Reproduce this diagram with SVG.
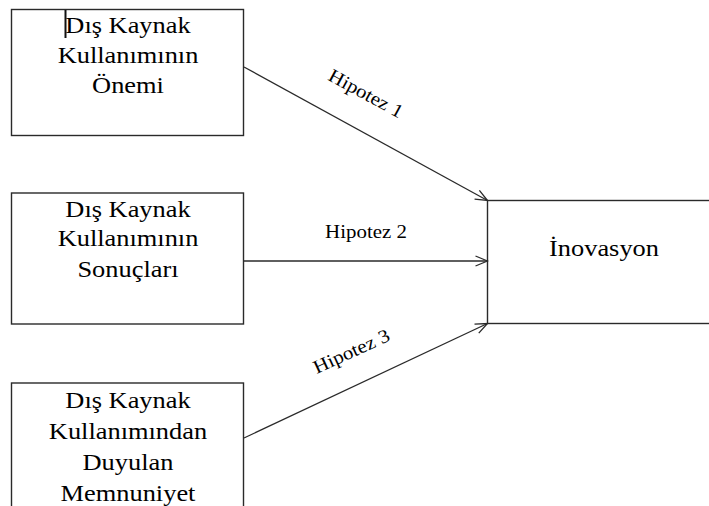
<svg xmlns="http://www.w3.org/2000/svg" width="709" height="506" viewBox="0 0 709 506">
  <defs>
    <style>
      .box { fill: #ffffff; stroke: #2a2a2a; stroke-width: 1.4; }
      .lbl { font-family: "Liberation Serif", "Times New Roman", serif; font-size: 24px; fill: #000; text-anchor: middle; }
      .hyp { font-family: "Liberation Serif", "Times New Roman", serif; font-size: 19px; fill: #000; text-anchor: middle; }
      .edge { stroke: #2a2a2a; stroke-width: 1.3; fill: none; }
    </style>
    <marker id="arrow" viewBox="0 0 14 12" refX="13" refY="6" markerWidth="14" markerHeight="12" markerUnits="userSpaceOnUse" orient="auto">
      <path d="M1,1 L13,6 L1,11" fill="none" stroke="#2a2a2a" stroke-width="1.3"/>
    </marker>
  </defs>

  <rect width="709" height="506" fill="#ffffff"/>

  <!-- source factor boxes -->
  <g id="node-onemi">
    <rect class="box" x="11.5" y="9.5" width="232" height="126"/>
    <g transform="translate(128 0) scale(1.1 1)">
      <text class="lbl" x="0" y="33.5">Dış Kaynak</text>
      <text class="lbl" x="0" y="63">Kullanımının</text>
      <text class="lbl" x="0" y="93">Önemi</text>
    </g>
    <!-- text cursor -->
    <line x1="65.5" y1="10" x2="65.5" y2="38" stroke="#111" stroke-width="2"/>
  </g>

  <g id="node-sonuclari">
    <rect class="box" x="11.5" y="193" width="232" height="131"/>
    <g transform="translate(128 0) scale(1.1 1)">
      <text class="lbl" x="0" y="217">Dış Kaynak</text>
      <text class="lbl" x="0" y="246.5">Kullanımının</text>
      <text class="lbl" x="0" y="277">Sonuçları</text>
    </g>
  </g>

  <g id="node-memnuniyet">
    <rect class="box" x="11.5" y="383" width="232" height="140"/>
    <g transform="translate(128 0) scale(1.1 1)">
      <text class="lbl" x="0" y="408">Dış Kaynak</text>
      <text class="lbl" x="0" y="439">Kullanımından</text>
      <text class="lbl" x="0" y="470">Duyulan</text>
      <text class="lbl" x="0" y="501">Memnuniyet</text>
    </g>
  </g>

  <!-- outcome box -->
  <g id="node-inovasyon">
    <rect class="box" x="487.5" y="200.5" width="240" height="123"/>
    <g transform="translate(604 0) scale(1.1 1)">
      <text class="lbl" x="0" y="256">İnovasyon</text>
    </g>
  </g>

  <!-- hypothesis paths -->
  <g id="connectors">
    <line class="edge" x1="244" y1="67" x2="487.5" y2="200.5" marker-end="url(#arrow)"/>
    <line class="edge" x1="244" y1="261" x2="487.5" y2="261" marker-end="url(#arrow)"/>
    <line class="edge" x1="244" y1="438" x2="487.5" y2="323.5" marker-end="url(#arrow)"/>
    <text class="hyp" transform="translate(363 99) rotate(28.5) scale(1.1 1)">Hipotez 1</text>
    <text class="hyp" transform="translate(366 238) scale(1.1 1)">Hipotez 2</text>
    <text class="hyp" transform="translate(354 357) rotate(-24.5) scale(1.1 1)">Hipotez 3</text>
  </g>
</svg>
